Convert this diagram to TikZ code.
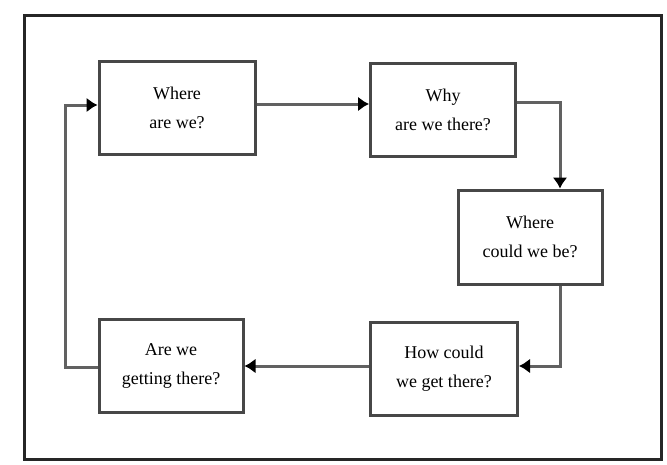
\documentclass[tikz,border=0pt]{standalone}
\usepackage{fontspec}
\setmainfont{Liberation Serif}
\usetikzlibrary{arrows.meta}
\begin{document}
\begin{tikzpicture}[x=1pt,y=-1pt,
  qbox/.style={draw=black!72, line width=3pt, fill=white, rectangle, align=center,
    inner sep=0pt, font=\fontsize{18}{29}\selectfont},
  conn/.style={draw=black!62, line width=3pt},
  arr/.style={conn, -{Latex[length=11pt,width=15pt,fill=black,color=black]}}]
\useasboundingbox (0,0) rectangle (667,464);
\fill[white] (0,0) rectangle (667,464);
\draw[black!85, line width=3pt] (24,15) rectangle (661,459);
\node[qbox, minimum width=156pt, minimum height=93pt] (b1) at (177,108) {Where\\are we?};
\node[qbox, minimum width=145pt, minimum height=93pt] (b2) at (443,110) {Why\\are we there?};
\node[qbox, minimum width=144pt, minimum height=94pt] (b3) at (530,237) {Where\\could we be?};
\node[qbox, minimum width=147pt, minimum height=93pt] (b4) at (444,369) {How could\\we get there?};
\node[qbox, minimum width=144pt, minimum height=93pt] (b5) at (171,366) {Are we\\getting there?};
\coordinate (c12) at (0,104);
\coordinate (c23) at (560,102);
\coordinate (c34) at (560,366);
\coordinate (c51) at (65,367);
\coordinate (c15) at (65,105);
\draw[arr] (b1.east |- c12) -- (b2.west |- c12);
\draw[arr] (b2.east |- c23) -| (c23 |- b3.north);
\draw[arr] (c34 |- b3.south) |- (b4.east |- c34);
\draw[arr] (b4.west |- c34) -- (b5.east |- c34);
\draw[arr] (b5.west |- c51) -- (c51) |- (b1.west |- c15);
\end{tikzpicture}
\end{document}
